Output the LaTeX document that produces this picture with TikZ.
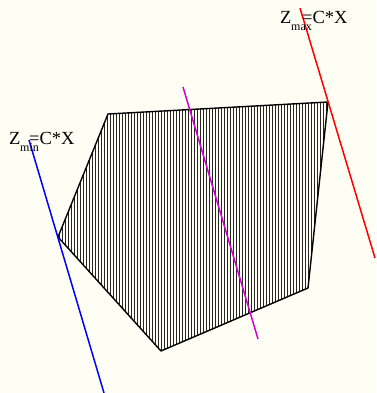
\documentclass[tikz,border=0pt]{standalone}
\usepackage{fontspec}
\setmainfont{Liberation Serif}
\definecolor{bg}{RGB}{255,254,245}
\definecolor{mag}{RGB}{210,0,210}
\begin{document}
\begin{tikzpicture}[x=1pt,y=-1pt,
  lbl/.style={anchor=base west,inner sep=0pt,font=\fontsize{18.5}{18.5}\selectfont},
  sub/.style={anchor=base west,inner sep=0pt,font=\fontsize{12}{12}\selectfont},
  edge/.style={line width=1.4pt,black,line join=round},
  objline/.style={line width=1.5pt}]
\fill[bg] (0,0) rectangle (376,393);
\useasboundingbox (0,0) rectangle (376,393);
\coordinate (A) at (108,114);
\coordinate (B) at (328,102);
\coordinate (C) at (308,288);
\coordinate (D) at (161,351);
\coordinate (E) at (58,237);
\begin{scope}
\clip (A) -- (B) -- (C) -- (D) -- (E) -- cycle;
\foreach \x in {59,62,...,330} \draw[line width=1pt,black!85] (\x,95) -- (\x,360);
\end{scope}
\draw[edge] (A) -- (B) -- (C) -- (D) -- (E) -- cycle;
% objective lines
\coordinate (b1) at (29,140); \coordinate (b2) at (104,393);
\coordinate (m1) at (183,87); \coordinate (m2) at (258,339);
\coordinate (r1) at (300,8); \coordinate (r2) at (375,258);
\draw[objline,blue] (b1) -- (b2);
\draw[objline,mag] (m1) -- (m2);
\draw[objline,red] (r1) -- (r2);
% labels
\node[lbl] (zmaxZ) at (280,24) {Z};
\node[sub] (zmaxs) at (291,31) {max};
\node[lbl] (zmaxe) at (302,24) {=C*X};
\node[lbl] (zminZ) at (9,144) {Z};
\node[sub] (zmins) at (20,151) {min};
\node[lbl] (zmine) at (29,144) {=C*X};
\end{tikzpicture}
\end{document}
